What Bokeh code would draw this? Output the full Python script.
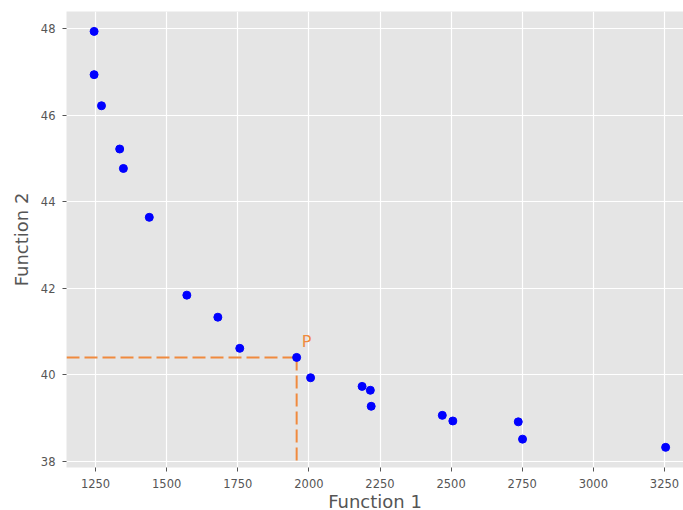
from bokeh.plotting import figure
from bokeh.models import Range1d, FixedTicker, ColumnDataSource
from bokeh.core.properties import value
from bokeh.embed import file_html
from bokeh.resources import INLINE

# Data
function_1 = [1245, 1245, 1271, 1335, 1348, 1439, 1571, 1680, 1757, 1957,
              2006, 2187, 2216, 2219, 2469, 2506, 2736, 2751, 3254]
function_2 = [47.94, 46.94, 46.22, 45.22, 44.77, 43.64, 41.84, 41.33, 40.61, 40.40,
              39.93, 39.73, 39.64, 39.27, 39.06, 38.93, 38.91, 38.51, 38.32]
p_index = 9
p_label = "P"
x_ticks = [1250, 1500, 1750, 2000, 2250, 2500, 2750, 3000, 3250]
y_ticks = [38, 40, 42, 44, 46, 48]

x_start, x_end = 1148.0, 3316.8
y_start, y_end = 37.854, 48.40

orange = "#f08a3e"
grey = "#555555"

p = figure(width=683, height=510, output_backend="svg", toolbar_location=None,
           x_range=Range1d(x_start, x_end), y_range=Range1d(y_start, y_end),
           min_border_left=66, min_border_right=0, min_border_top=11, min_border_bottom=43,
           frame_width=617, frame_height=456)

p.background_fill_color = "#e5e5e5"
p.border_fill_color = "white"
p.outline_line_color = None

p.xaxis.ticker = FixedTicker(ticks=x_ticks)
p.yaxis.ticker = FixedTicker(ticks=y_ticks)
for ax in (p.xaxis[0], p.yaxis[0]):
    ax.axis_line_color = None
    ax.major_tick_line_color = grey
    ax.major_tick_out = 4
    ax.major_tick_in = 0
    ax.minor_tick_line_color = None
    ax.major_label_text_font = "DejaVu Sans"
    ax.major_label_text_font_size = "11.5px"
    ax.major_label_text_color = grey
    ax.axis_label_text_font = "DejaVu Sans"
    ax.axis_label_text_font_size = "18px"
    ax.axis_label_text_font_style = "normal"
    ax.axis_label_text_color = grey

p.xaxis.axis_label = "Function 1"
p.yaxis.axis_label = "Function 2"
p.xaxis[0].major_label_standoff = 7
p.xaxis[0].axis_label_standoff = 0
p.yaxis[0].major_label_standoff = 7
p.yaxis[0].axis_label_standoff = 6

p.xgrid.grid_line_color = "white"
p.ygrid.grid_line_color = "white"
p.xgrid.grid_line_width = 1.2
p.ygrid.grid_line_width = 1.2

px, py = function_1[p_index], function_2[p_index]

# dashed guide lines to point P
p.line([x_start, px], [py, py], line_color=orange, line_width=2, line_dash="13 5")
p.line([px, px], [py, y_ticks[0]], line_color=orange, line_width=2, line_dash="13 5")

src = ColumnDataSource(dict(x=function_1, y=function_2))
p.scatter("x", "y", source=src, size=8, fill_color="#0000ff", line_color="#0000ff")

p.text(x=[px], y=[py], text=[p_label], text_color=orange,
       text_font=value("DejaVu Sans"), text_font_size="16px",
       x_offset=5, y_offset=-6, text_baseline="bottom", text_align="left")

open("out.html", "w").write(file_html(p, INLINE))
